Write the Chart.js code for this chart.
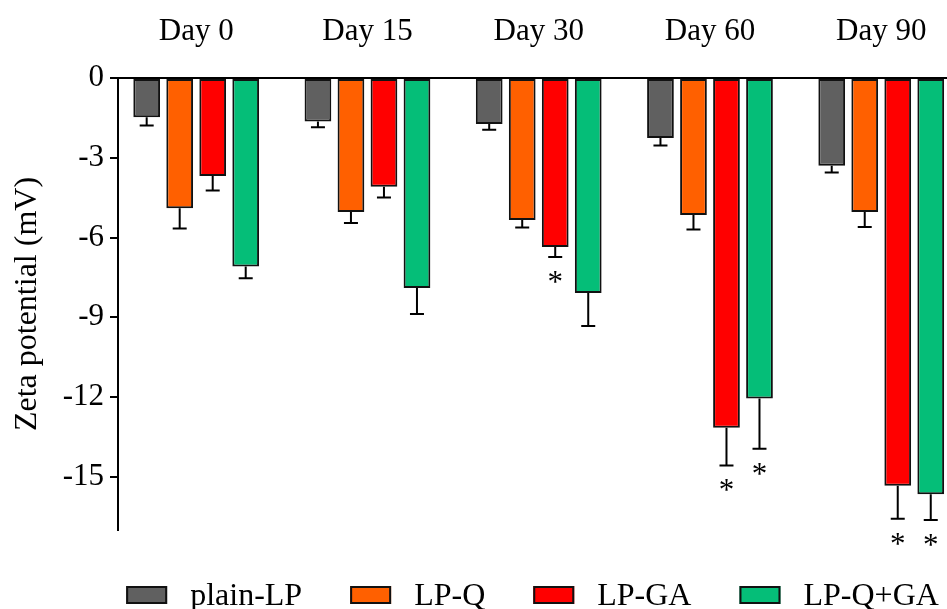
<!DOCTYPE html>
<html>
<head>
<meta charset="utf-8">
<script src="https://cdn.jsdelivr.net/npm/chart.js@4/dist/chart.umd.min.js"></script>
<style>
  html, body { margin: 0; padding: 0; background: #fff; overflow: hidden; }
  canvas { display: block; }
</style>
</head>
<body>
<canvas id="c" width="947" height="609"></canvas>
<script>
// Zeta potential (mV) of the liposome formulations over storage time
const days = ['Day 0', 'Day 15', 'Day 30', 'Day 60', 'Day 90'];
const yTickValues = [0, -3, -6, -9, -12, -15];

const plainLP     = [-1.48, -1.64, -1.73, -2.26, -3.30];
const plainLPErr  = [0.31, 0.21, 0.22, 0.28, 0.25];
const plainLPSig  = [false, false, false, false, false];

const lpQ         = [-4.90, -5.04, -5.34, -5.15, -5.04];
const lpQErr      = [0.76, 0.41, 0.28, 0.55, 0.56];
const lpQSig      = [false, false, false, false, false];

const lpGA        = [-3.69, -4.09, -6.36, -13.15, -15.34];
const lpGAErr     = [0.54, 0.40, 0.37, 1.42, 1.24];
const lpGASig     = [false, false, true, true, true];

const lpQGA       = [-7.09, -7.90, -8.09, -12.05, -15.66];
const lpQGAErr    = [0.44, 0.98, 1.24, 1.89, 0.96];
const lpQGASig    = [false, false, false, true, true];

const SERIF = '"Liberation Serif", "Times New Roman", serif';

function series(label, color, values, errors, significant) {
  return {
    label, data: values, errors, significant,
    backgroundColor: color,
    borderColor: '#111',
    borderWidth: 2,
    borderSkipped: false,
    categoryPercentage: 0.771,
    barPercentage: 0.81
  };
}

// One-sided error bars (away from zero) and significance asterisks
const errorBars = {
  id: 'errorBars',
  afterDatasetsDraw(chart) {
    const ctx = chart.ctx;
    const yScale = chart.scales.y;
    chart.data.datasets.forEach((ds, di) => {
      const meta = chart.getDatasetMeta(di);
      meta.data.forEach((bar, i) => {
        const v = ds.data[i];
        const yEnd = yScale.getPixelForValue(v - ds.errors[i]);
        ctx.save();
        ctx.strokeStyle = '#000';
        ctx.lineWidth = 2;
        ctx.beginPath();
        ctx.moveTo(bar.x, bar.y);
        ctx.lineTo(bar.x, yEnd);
        ctx.moveTo(bar.x - 7, yEnd);
        ctx.lineTo(bar.x + 7, yEnd);
        ctx.stroke();
        if (ds.significant[i]) {
          ctx.fillStyle = '#000';
          ctx.font = '31px ' + SERIF;
          ctx.textAlign = 'center';
          ctx.textBaseline = 'alphabetic';
          ctx.fillText('*', bar.x, yEnd + 35);
        }
        ctx.restore();
      });
    });
  }
};

// Legend row under the plot, centred on the plot area
const bottomLegend = {
  id: 'bottomLegend',
  afterDraw(chart) {
    const ctx = chart.ctx;
    const area = chart.chartArea;
    const boxW = 41, boxH = 18, gap = 23, itemGap = 48;
    ctx.save();
    ctx.font = '32px ' + SERIF;
    const items = chart.data.datasets.map(ds => ({
      text: ds.label, color: ds.backgroundColor, w: ctx.measureText(ds.label).width
    }));
    const total = items.reduce((s, it) => s + boxW + gap + it.w, 0) + itemGap * (items.length - 1);
    let x = (area.left + area.right) / 2 - total / 2;
    const cy = 595;
    items.forEach(it => {
      ctx.fillStyle = it.color;
      ctx.fillRect(x, cy - boxH / 2, boxW, boxH);
      ctx.strokeStyle = '#111';
      ctx.lineWidth = 2;
      ctx.strokeRect(x + 1, cy - boxH / 2 + 1, boxW - 2, boxH - 2);
      ctx.fillStyle = '#000';
      ctx.textAlign = 'left';
      ctx.textBaseline = 'alphabetic';
      ctx.fillText(it.text, x + boxW + gap, cy + 10);
      x += boxW + gap + it.w + itemGap;
    });
    ctx.restore();
  }
};

new Chart(document.getElementById('c'), {
  type: 'bar',
  data: {
    labels: days.map((_, i) => i),
    datasets: [
      series('plain-LP', '#606060', plainLP, plainLPErr, plainLPSig),
      series('LP-Q', '#FF6000', lpQ, lpQErr, lpQSig),
      series('LP-GA', '#FF0000', lpGA, lpGAErr, lpGASig),
      series('LP-Q+GA', '#05BE78', lpQGA, lpQGAErr, lpQGASig)
    ]
  },
  options: {
    responsive: false,
    animation: false,
    layout: { padding: { left: 0, right: 0, top: 0, bottom: 79 } },
    plugins: {
      legend: { display: false },
      tooltip: { enabled: false }
    },
    scales: {
      x: {
        type: 'linear',
        position: 'top',
        offset: false,
        min: -0.4566,
        max: 4.384,
        afterBuildTicks: scale => { scale.ticks = days.map((_, i) => ({ value: i })); },
        afterFit: scale => {
          scale.height = 78;
          scale.paddingLeft = 0;
          scale.paddingRight = 0;
        },
        grid: { display: false, drawTicks: false, offset: false },
        border: { display: true, color: '#000', width: 2 },
        ticks: {
          color: '#000',
          font: { family: SERIF, size: 31 },
          padding: 28,
          maxRotation: 0,
          callback: v => days[v]
        }
      },
      y: {
        min: -17,
        max: 0,
        afterBuildTicks: scale => { scale.ticks = yTickValues.map(v => ({ value: v })); },
        afterFit: scale => { scale.width = 118; },
        grid: {
          display: true,
          drawOnChartArea: false,
          drawTicks: true,
          tickLength: 8,
          color: '#000',
          lineWidth: 2
        },
        border: { display: true, color: '#000', width: 2 },
        ticks: {
          color: '#000',
          font: { family: SERIF, size: 31 },
          padding: 6,
          callback: v => String(v)
        },
        title: {
          display: true,
          text: 'Zeta potential (mV)',
          color: '#000',
          font: { family: SERIF, size: 32 },
          padding: { top: 8, bottom: 0 }
        }
      }
    }
  },
  plugins: [errorBars, bottomLegend]
});
</script>
</body>
</html>
